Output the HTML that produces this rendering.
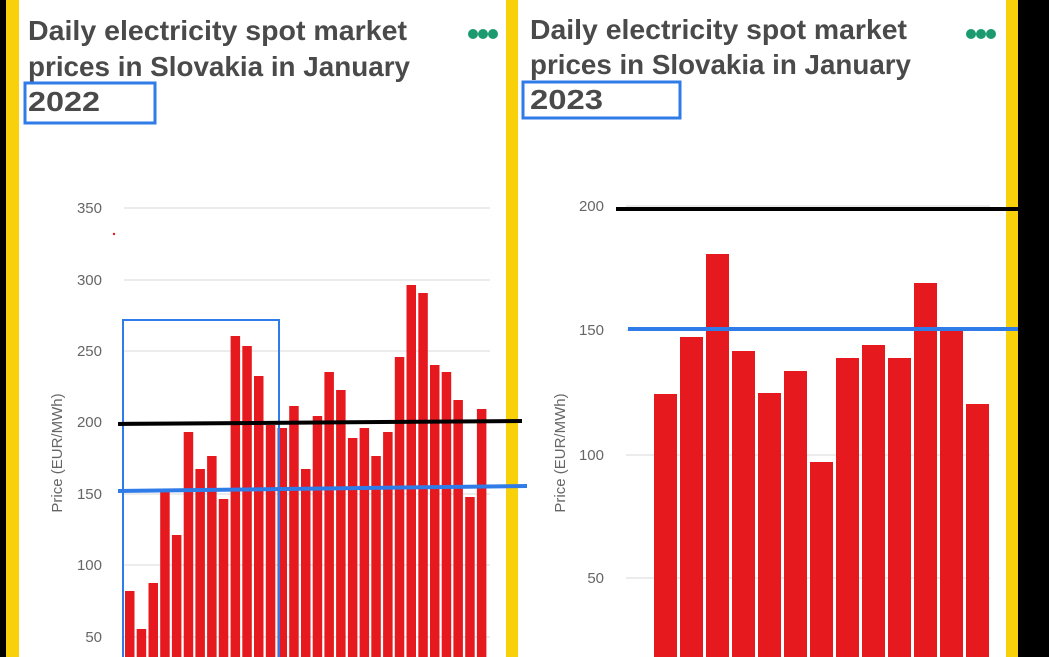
<!DOCTYPE html>
<html><head><meta charset="utf-8"><style>
html,body{margin:0;padding:0;background:#000;}
svg{display:block;font-family:"Liberation Sans",sans-serif;}
</style></head><body>
<svg width="1049" height="657" viewBox="0 0 1049 657" xmlns="http://www.w3.org/2000/svg">
<rect x="0" y="0" width="1049" height="657" fill="#000"/>
<rect x="6" y="0" width="13" height="657" fill="#f9d10a"/>
<rect x="19" y="0" width="487" height="657" fill="#fff"/>
<rect x="506" y="0" width="12" height="657" fill="#f9d10a"/>
<rect x="518" y="0" width="488" height="657" fill="#fff"/>
<rect x="1006" y="0" width="12" height="657" fill="#f9d10a"/>

<g fill="#4a4a4a" font-size="28" font-weight="bold">
<text x="28" y="40" textLength="379" lengthAdjust="spacingAndGlyphs">Daily electricity spot market</text>
<text x="28" y="76" textLength="382" lengthAdjust="spacingAndGlyphs">prices in Slovakia in January</text>
<text x="28" y="111" textLength="72" lengthAdjust="spacingAndGlyphs">2022</text>
</g>
<g fill="#1a9a6e"><circle cx="473" cy="34" r="5"/><circle cx="483" cy="34" r="5"/><circle cx="493" cy="34" r="5"/></g>
<rect x="25" y="83" width="130" height="40" fill="none" stroke="#2f7be8" stroke-width="3"/>

<g stroke="#e6e6e6" stroke-width="1.5">
<line x1="124" y1="208" x2="490" y2="208"/><line x1="124" y1="280" x2="490" y2="280"/>
<line x1="124" y1="351" x2="490" y2="351"/><line x1="124" y1="422" x2="490" y2="422"/>
<line x1="124" y1="494" x2="490" y2="494"/><line x1="124" y1="565" x2="490" y2="565"/>
<line x1="124" y1="637" x2="490" y2="637"/>
</g>
<g fill="#666" font-size="15" text-anchor="end">
<text x="102" y="213">350</text><text x="102" y="285">300</text><text x="102" y="356">250</text>
<text x="102" y="427">200</text><text x="102" y="499">150</text><text x="102" y="570">100</text>
<text x="102" y="642">50</text>
</g>
<text transform="translate(62,453) rotate(-90)" fill="#666" font-size="15" text-anchor="middle">Price (EUR/MWh)</text>
<circle cx="114" cy="234" r="1.2" fill="#e8191f"/>

<g fill="#e6191e">
<rect x="125" y="591" width="9.5" height="66"/>
<rect x="136.7" y="629" width="9.5" height="28"/>
<rect x="148.5" y="583" width="9.5" height="74"/>
<rect x="160.2" y="489" width="9.5" height="168"/>
<rect x="171.9" y="535" width="9.5" height="122"/>
<rect x="183.7" y="432" width="9.5" height="225"/>
<rect x="195.4" y="469" width="9.5" height="188"/>
<rect x="207.1" y="456" width="9.5" height="201"/>
<rect x="218.8" y="499" width="9.5" height="158"/>
<rect x="230.6" y="336" width="9.5" height="321"/>
<rect x="242.3" y="346" width="9.5" height="311"/>
<rect x="254" y="376" width="9.5" height="281"/>
<rect x="265.8" y="425" width="9.5" height="232"/>
<rect x="277.5" y="428" width="9.5" height="229"/>
<rect x="289.2" y="406" width="9.5" height="251"/>
<rect x="301" y="469" width="9.5" height="188"/>
<rect x="312.7" y="416" width="9.5" height="241"/>
<rect x="324.4" y="372" width="9.5" height="285"/>
<rect x="336.1" y="390" width="9.5" height="267"/>
<rect x="347.9" y="438" width="9.5" height="219"/>
<rect x="359.6" y="428" width="9.5" height="229"/>
<rect x="371.3" y="456" width="9.5" height="201"/>
<rect x="383.1" y="432" width="9.5" height="225"/>
<rect x="394.8" y="357" width="9.5" height="300"/>
<rect x="406.5" y="285" width="9.5" height="372"/>
<rect x="418.3" y="293" width="9.5" height="364"/>
<rect x="430" y="365" width="9.5" height="292"/>
<rect x="441.7" y="372" width="9.5" height="285"/>
<rect x="453.4" y="400" width="9.5" height="257"/>
<rect x="465.2" y="497" width="9.5" height="160"/>
<rect x="476.9" y="409" width="9.5" height="248"/>
</g>
<rect x="123" y="320" width="156" height="345" fill="none" stroke="#2f7be8" stroke-width="2"/>
<line x1="118" y1="424" x2="522" y2="421" stroke="#000" stroke-width="4"/>
<line x1="118" y1="491" x2="527" y2="486" stroke="#2f7be8" stroke-width="4"/>

<g fill="#4a4a4a" font-size="28" font-weight="bold">
<text x="530" y="39" textLength="377" lengthAdjust="spacingAndGlyphs">Daily electricity spot market</text>
<text x="530" y="74" textLength="381" lengthAdjust="spacingAndGlyphs">prices in Slovakia in January</text>
<text x="530" y="109" textLength="73" lengthAdjust="spacingAndGlyphs">2023</text>
</g>
<g fill="#1a9a6e"><circle cx="971" cy="34" r="5"/><circle cx="981" cy="34" r="5"/><circle cx="991" cy="34" r="5"/></g>
<rect x="523" y="82" width="157" height="36" fill="none" stroke="#2f7be8" stroke-width="3"/>

<g stroke="#e6e6e6" stroke-width="1.5">
<line x1="626" y1="206" x2="990" y2="206"/><line x1="626" y1="330" x2="990" y2="330"/>
<line x1="626" y1="455" x2="990" y2="455"/><line x1="626" y1="578" x2="990" y2="578"/>
</g>
<g fill="#666" font-size="15" text-anchor="end">
<text x="604" y="211">200</text><text x="604" y="335">150</text>
<text x="604" y="460">100</text><text x="604" y="583">50</text>
</g>
<text transform="translate(565,453) rotate(-90)" fill="#666" font-size="15" text-anchor="middle">Price (EUR/MWh)</text>

<g fill="#e6191e">
<rect x="654" y="394" width="23" height="263"/>
<rect x="680" y="337" width="23" height="320"/>
<rect x="706" y="254" width="23" height="403"/>
<rect x="732" y="351" width="23" height="306"/>
<rect x="758" y="393" width="23" height="264"/>
<rect x="784" y="371" width="23" height="286"/>
<rect x="810" y="462" width="23" height="195"/>
<rect x="836" y="358" width="23" height="299"/>
<rect x="862" y="345" width="23" height="312"/>
<rect x="888" y="358" width="23" height="299"/>
<rect x="914" y="283" width="23" height="374"/>
<rect x="940" y="329" width="23" height="328"/>
<rect x="966" y="404" width="23" height="253"/>
</g>
<line x1="616" y1="209" x2="1018" y2="209" stroke="#000" stroke-width="4"/>
<line x1="628" y1="329" x2="1018" y2="329" stroke="#2f7be8" stroke-width="4"/>
</svg>
</body></html>
